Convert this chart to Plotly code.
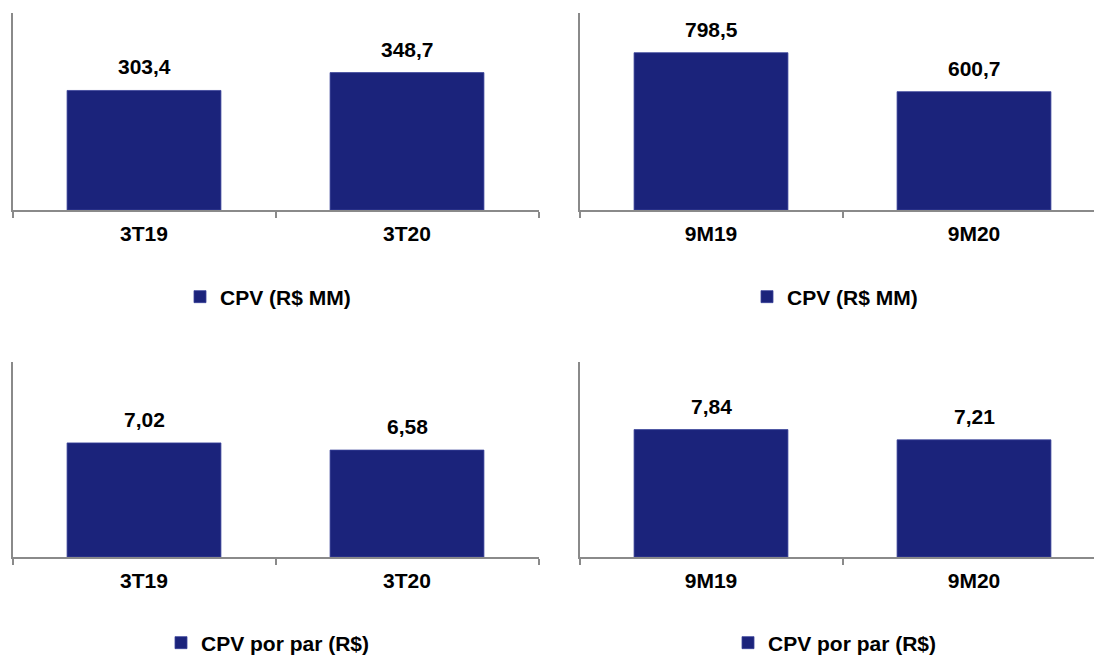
import plotly.graph_objects as go

# Data
cats_3t = ["3T19", "3T20"]
cats_9m = ["9M19", "9M20"]
cpv_3t = [303.4, 348.7]
cpv_9m = [798.5, 600.7]
cpp_3t = [7.02, 6.58]
cpp_9m = [7.84, 7.21]
labels_cpv_3t = ["303,4", "348,7"]
labels_cpv_9m = ["798,5", "600,7"]
labels_cpp_3t = ["7,02", "6,58"]
labels_cpp_9m = ["7,84", "7,21"]
name_cpv = "CPV (R$ MM)"
name_cpp = "CPV por par (R$)"

NAVY = "#1b237b"
AXIS = "#8a8a8a"
FONT = "Arial, Liberation Sans, sans-serif"
FS = 21
W, H = 1094, 655

def fx(px):
    return px / W

def fy(py):
    return 1 - py / H

panels = [
    ("x", "y", cats_3t, cpv_3t, labels_cpv_3t, name_cpv, "legend", (12.5, 538.5), (13, 210), 500),
    ("x2", "y2", cats_9m, cpv_9m, labels_cpv_9m, name_cpv, "legend2", (579.5, 1105.5), (13, 210), 1000),
    ("x3", "y3", cats_3t, cpp_3t, labels_cpp_3t, name_cpp, "legend3", (12.5, 538.5), (362, 557), 12),
    ("x4", "y4", cats_9m, cpp_9m, labels_cpp_9m, name_cpp, "legend4", (579.5, 1105.5), (362, 557), 12),
]

fig = go.Figure()
layout = {}
annotations = []
for xid, yid, cats, vals, labs, name, leg, (x0, x1), (ytop, ybot), ymax in panels:
    fig.add_trace(go.Bar(
        x=cats, y=vals, name=name, xaxis=xid, yaxis=yid,
        marker=dict(color=NAVY, line=dict(color="#3a429a", width=0.8)),
        width=0.585, showlegend=True, legend=leg, hoverinfo="skip",
    ))
    span = x1 - x0
    d1 = min(x1, W)
    rng_end = -0.5 + 2 * (d1 - x0) / span
    xkey = "xaxis" + xid[1:]
    ykey = "yaxis" + yid[1:]
    layout[xkey] = dict(
        domain=[fx(x0), fx(d1)], anchor=yid, type="category", automargin=False,
        range=[-0.5, rng_end], showline=True, linecolor=AXIS, linewidth=1.5,
        ticks="outside", tickson="boundaries", ticklen=6, tickcolor=AXIS, tickwidth=1.5,
        showgrid=False, zeroline=False, ticklabelstandoff=4,
        tickfont=dict(family=FONT, size=FS, color="#000", weight="bold"),
    )
    layout[ykey] = dict(
        domain=[fy(ybot), fy(ytop)], anchor=xid, range=[0, ymax], automargin=False,
        showline=True, linecolor=AXIS, linewidth=1.5, showticklabels=False,
        ticks="", showgrid=False, zeroline=False,
    )
    for c, v, t in zip(cats, vals, labs):
        annotations.append(dict(
            x=c, y=v, xref=xid, yref=yid, text=t, showarrow=False,
            yanchor="bottom", yshift=10,
            font=dict(family=FONT, size=FS, color="#000", weight="bold"),
        ))

leg_common = dict(
    orientation="h", xanchor="center", yanchor="middle",
    font=dict(family=FONT, size=FS, color="#000", weight="bold"),
    bgcolor="rgba(0,0,0,0)", itemwidth=30,
)
layout["legend"] = dict(leg_common, x=fx(268), y=fy(297))
layout["legend2"] = dict(leg_common, x=fx(835), y=fy(297))
layout["legend3"] = dict(leg_common, x=fx(268), y=fy(643))
layout["legend4"] = dict(leg_common, x=fx(835), y=fy(643))

fig.update_layout(
    width=W, height=H, margin=dict(l=0, r=0, t=0, b=0, autoexpand=False),
    paper_bgcolor="white", plot_bgcolor="white",
    annotations=annotations,
    **layout,
)

post = (
    "var s=document.createElement('style');"
    "s.textContent='html,body{margin:0;padding:0;overflow:hidden}"
    ".svg-container{display:block !important}"
    ".plotly-graph-div{line-height:0}';"
    "document.head.appendChild(s);"
)
fig.write_html("out.html", config={"displayModeBar": False}, post_script=post)
